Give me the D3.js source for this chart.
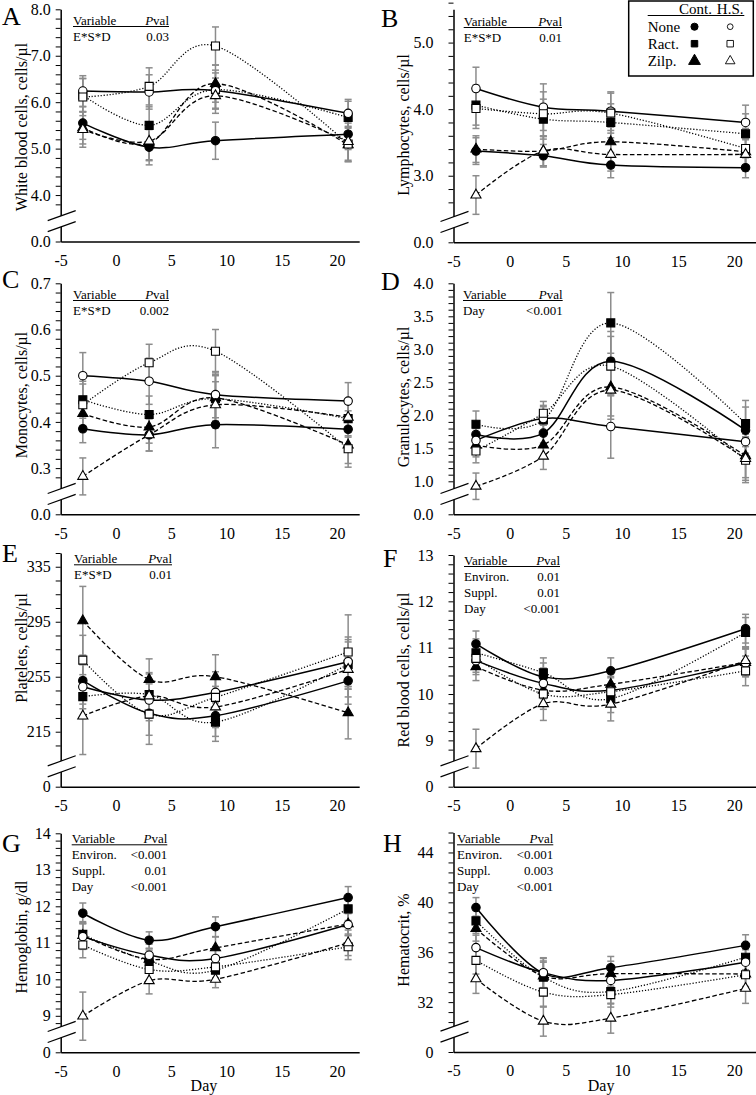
<!DOCTYPE html>
<html><head><meta charset="utf-8">
<script src="https://cdn.jsdelivr.net/npm/d3@7"></script>
<style>
body{margin:0;background:#fff}
svg{display:block}
</style>
</head><body>
<svg id="c" width="756" height="1095" font-family="Liberation Serif"></svg>
<script>
// ---------- DATA ----------
const days = [-3, 3, 9, 21];
const dayTicks = [-5, 0, 5, 10, 15, 20];
// row order in every value array: None-Cont, None-HS, Ract-Cont, Ract-HS, Zilp-Cont, Zilp-HS
const seriesNames = ["None Cont.", "None H.S.", "Ract. Cont.", "Ract. H.S.", "Zilp. Cont.", "Zilp. H.S."];
const seriesShape = ["circle", "circle", "square", "square", "triangle", "triangle"];
const seriesFilled = [true, false, true, false, true, false];
const seriesLine = ["solid", "solid", "dot", "dot", "dash", "dash"];
const drawOrder = [0, 2, 4, 1, 3, 5];

const wbc = [[5.55, 5.03, 5.17, 5.31], [6.24, 6.22, 6.25, 5.76], [6.15, 5.50, 6.27, 5.67], [6.11, 6.34, 7.21, 5.10], [5.45, 5.12, 6.40, 5.08], [5.41, 5.16, 6.14, 5.15]];
const wbcSE = [[0.35, 0.38, 0.40, 0.33], [0.33, 0.37, 0.38, 0.30], [0.36, 0.40, 0.42, 0.35], [0.40, 0.40, 0.41, 0.38], [0.35, 0.38, 0.40, 0.36], [0.38, 0.40, 0.38, 0.40]];
const lym = [[3.37, 3.30, 3.16, 3.12], [4.31, 4.03, 3.97, 3.80], [4.06, 3.85, 3.80, 3.63], [4.01, 3.93, 3.94, 3.41], [3.40, 3.37, 3.51, 3.36], [2.71, 3.37, 3.32, 3.32]];
const lymSE = [[0.20, 0.17, 0.19, 0.15], [0.32, 0.35, 0.29, 0.26], [0.30, 0.30, 0.28, 0.30], [0.30, 0.33, 0.30, 0.30], [0.20, 0.22, 0.22, 0.20], [0.29, 0.22, 0.25, 0.25]];
const mono = [[0.385, 0.372, 0.394, 0.384], [0.500, 0.488, 0.459, 0.445], [0.448, 0.416, 0.450, 0.407], [0.437, 0.528, 0.553, 0.342], [0.418, 0.389, 0.452, 0.350], [0.282, 0.372, 0.437, 0.410]];
const monoSE = [[0.030, 0.035, 0.050, 0.040], [0.050, 0.050, 0.050, 0.040], [0.040, 0.040, 0.050, 0.040], [0.045, 0.040, 0.047, 0.040], [0.035, 0.035, 0.050, 0.040], [0.040, 0.035, 0.050, 0.040]];
const gran = [[1.71, 1.73, 2.82, 1.775], [1.62, 1.95, 1.83, 1.60], [1.865, 1.93, 3.40, 1.875], [1.46, 2.03, 2.745, 1.32], [1.55, 1.55, 2.43, 1.385], [0.925, 1.38, 2.38, 1.345]];
const granSE = [[0.18, 0.18, 0.45, 0.35], [0.18, 0.20, 0.48, 0.30], [0.20, 0.20, 0.46, 0.35], [0.18, 0.18, 0.45, 0.34], [0.18, 0.18, 0.44, 0.33], [0.20, 0.20, 0.44, 0.33]];
const plt = [[252.1, 228.4, 226.6, 252.0], [247.7, 238.0, 243.6, 265.9], [240.5, 242.0, 222.0, 264.0], [267.1, 227.8, 240.0, 273.0], [295.7, 253.0, 255.0, 228.8], [226.4, 241.0, 233.0, 260.3]];
const pltSE = [[17, 16, 15, 17], [16, 15, 15, 18], [16, 16, 14, 18], [18, 22, 15, 27], [25, 15, 16, 19], [28, 16, 15, 20]];
const rbc = [[11.08, 10.37, 10.50, 11.41], [10.72, 10.23, 10.08, 10.67], [10.89, 10.46, 9.90, 11.33], [10.77, 10.00, 10.05, 10.50], [10.59, 10.08, 10.21, 10.68], [8.82, 9.79, 9.78, 10.72]];
const rbcSE = [[0.28, 0.30, 0.28, 0.31], [0.30, 0.33, 0.30, 0.30], [0.30, 0.32, 0.30, 0.32], [0.30, 0.33, 0.30, 0.32], [0.30, 0.32, 0.30, 0.30], [0.42, 0.36, 0.36, 0.30]];
const hgb = [[11.81, 11.07, 11.44, 12.24], [11.17, 10.66, 10.57, 11.50], [11.23, 10.50, 10.25, 11.93], [10.94, 10.27, 10.34, 10.89], [11.20, 10.55, 10.86, 11.52], [8.99, 9.96, 10.00, 11.00]];
const hgbSE = [[0.28, 0.23, 0.27, 0.30], [0.35, 0.30, 0.30, 0.30], [0.35, 0.30, 0.30, 0.32], [0.35, 0.30, 0.30, 0.35], [0.35, 0.30, 0.30, 0.32], [0.66, 0.36, 0.23, 0.35]];
const hct = [[39.58, 34.30, 34.76, 36.55], [36.37, 34.36, 33.74, 35.20], [38.51, 34.00, 32.85, 35.60], [35.35, 32.80, 32.60, 34.20], [37.89, 34.10, 34.28, 34.25], [33.87, 30.47, 30.71, 33.10]];
const hctSE = [[0.80, 1.20, 0.90, 0.85], [1.00, 1.20, 1.00, 1.00], [1.00, 1.20, 1.00, 1.00], [1.10, 1.20, 1.00, 1.00], [1.00, 1.20, 1.00, 1.00], [1.17, 1.20, 1.20, 1.20]];

const wbcTicks = [4, 5, 6, 7, 8];
const lymTicks = [3, 4, 5];
const monoTicks = [0.3, 0.4, 0.5, 0.6, 0.7];
const granTicks = [1, 1.5, 2, 2.5, 3, 3.5, 4];
const pltTicks = [215, 255, 295, 335];
const rbcTicks = [9, 10, 11, 12, 13];
const hgbTicks = [9, 10, 11, 12, 13, 14];
const hctTicks = [32, 36, 40, 44];

const tabA = [["E*S*D", "0.03"]];
const tabB = [["E*S*D", "0.01"]];
const tabC = [["E*S*D", "0.002"]];
const tabD = [["Day", "<0.001"]];
const tabE = [["E*S*D", "0.01"]];
const tabF = [["Environ.", "0.01"], ["Suppl.", "0.01"], ["Day", "<0.001"]];
const tabG = [["Environ.", "<0.001"], ["Suppl.", "0.01"], ["Day", "<0.001"]];
const tabH = [["Environ.", "<0.001"], ["Suppl.", "0.003"], ["Day", "<0.001"]];

const legendRows = ["None", "Ract.", "Zilp."];
const legendCols = ["Cont.", "H.S."];

// ---------- LAYOUT ----------
const FONT = "Liberation Serif";
const svg = d3.select("#c");
const colX = {L: [60.7, 359.2], R: [453.5, 756.8]};
const panels = [
  {id: "A", col: "L", vals: wbc, se: wbcSE, ticks: wbcTicks, fmt: ".1f", zero: "0.0", dom: [3, 8], yr: [241.5, 9.3], minor: 0.2, title: "White blood cells, cells/µl", tyc: 127, tab: tabA, tx: 73, tr: 169, th: 20, L: [2, 25]},
  {id: "B", col: "R", vals: lym, se: lymSE, ticks: lymTicks, fmt: ".1f", zero: "0.0", dom: [2, 5.5], yr: [242.3, 9.3], minor: 0.2, title: "Lymphocytes, cells/µl", tyc: 125, tab: tabB, tx: 463.7, tr: 562, th: 21, L: [381, 27]},
  {id: "C", col: "L", vals: mono, se: monoSE, ticks: monoTicks, fmt: ".1f", zero: "0.0", dom: [0.2, 0.7], yr: [514.3, 283.3], minor: 0.02, title: "Monocytes, cells/µl", tyc: 395, tab: tabC, tx: 73, tr: 169, th: 294, L: [2, 288]},
  {id: "D", col: "R", vals: gran, se: granSE, ticks: granTicks, fmt: ".1f", zero: "0.0", dom: [0.5, 4.0], yr: [514.3, 283.3], minor: 0.1, title: "Granulocytes, cells/µl", tyc: 397, tab: tabD, tx: 463, tr: 562.7, th: 294, L: [381, 290]},
  {id: "E", col: "L", vals: plt, se: pltSE, ticks: pltTicks, fmt: "d", zero: "0", dom: [175, 345], yr: [786.7, 553], minor: 10, title: "Platelets, cells/µl", tyc: 648, tab: tabE, tx: 74, tr: 172, th: 558.3, L: [2, 562]},
  {id: "F", col: "R", vals: rbc, se: rbcSE, ticks: rbcTicks, fmt: "d", zero: "0", dom: [8, 13], yr: [786.7, 555], minor: 0.2, title: "Red blood cells, cells/µl", tyc: 670, tab: tabF, tx: 464, tr: 560, th: 560, L: [383, 567]},
  {id: "G", col: "L", vals: hgb, se: hgbSE, ticks: hgbTicks, fmt: "d", zero: "0", dom: [8, 14], yr: [1052.3, 833.3], minor: 0.2, title: "Hemoglobin, g/dl", tyc: 937, tab: tabG, tx: 71.7, tr: 167.3, th: 838.3, L: [2, 852], day: true},
  {id: "H", col: "R", vals: hct, se: hctSE, ticks: hctTicks, fmt: "d", zero: "0", dom: [28, 45.6], yr: [1052, 832.5], minor: 0.8, title: "Hematocrit, %", tyc: 940, tab: tabH, tx: 457, tr: 553.3, th: 838.3, L: [383, 852], day: true}
];

const ERR = "#8c8c8c";
function symbolPath(shape, size) {
  const t = shape === "circle" ? d3.symbolCircle : shape === "square" ? d3.symbolSquare : d3.symbolTriangle;
  return d3.symbol().type(t).size(size)();
}
const symSize = {circle: 56, square: 64, triangle: 44};
function txt(sel, size) {
  return sel.append("text").attr("font-family", FONT).attr("font-size", size).attr("fill", "#000");
}

function drawPanel(p) {
  const g = svg.append("g");
  const xr = colX[p.col];
  const x = d3.scaleLinear().domain([-5, 22]).range(xr);
  const y = d3.scaleLinear().domain(p.dom).range(p.yr);
  const ax = xr[0];
  const yb = p.yr[0];
  const bc = yb - 20;
  const pad = p.col === "L" ? 5 : 15;

  const n = Math.round((p.dom[1] - p.dom[0]) / p.minor);
  const tv = [];
  for (let i = 0; i <= n; i++) {
    const v = +(p.dom[0] + i * p.minor).toFixed(6);
    if (i === 0 || y(v) < bc - 8) tv.push(v);
  }
  const f = d3.format(p.fmt);
  const isMajor = v => p.ticks.some(t => Math.abs(t - v) < 1e-6);
  const yAxis = d3.axisLeft(y).tickValues(tv).tickSize(5).tickSizeOuter(0).tickPadding(pad)
    .tickFormat(v => v === p.dom[0] ? p.zero : (isMajor(v) ? f(v) : ""));
  const ya = g.append("g").attr("transform", `translate(${ax},0)`).call(yAxis)
    .attr("font-family", FONT).attr("font-size", 16);
  ya.selectAll("text").attr("font-family", FONT).attr("font-size", 16).attr("fill", "#000");
  ya.selectAll("line").attr("stroke", "#000").attr("stroke-width", 1);
  ya.select(".domain").attr("stroke", "#000").attr("stroke-width", 1.5);

  const xAxis = d3.axisBottom(x).tickValues(dayTicks).tickSize(0).tickSizeOuter(0).tickPadding(13).tickFormat(d => String(d));
  const xa = g.append("g").attr("transform", `translate(0,${yb})`).call(xAxis)
    .attr("font-family", FONT).attr("font-size", 16);
  xa.selectAll("text").attr("font-family", FONT).attr("font-size", 16).attr("fill", "#000");
  xa.select(".domain").attr("stroke", "#000").attr("stroke-width", 1.5);

  // axis break
  const s = 0.36;
  const L0 = ax - 13, L1 = ax + 15;
  const yl = (xx, off) => bc + off - (xx - ax) * s;
  g.append("path").attr("fill", "#fff")
    .attr("d", `M${L0+4},${yl(L0+4,-5.5)}L${L1-4},${yl(L1-4,-5.5)}L${L1-4},${yl(L1-4,5.5)}L${L0+4},${yl(L0+4,5.5)}Z`);
  [-5.5, 5.5].forEach(off => {
    g.append("line").attr("x1", L0).attr("y1", yl(L0, off)).attr("x2", L1).attr("y2", yl(L1, off))
      .attr("stroke", "#000").attr("stroke-width", 1.2);
  });

  // error bars
  const eg = g.append("g").attr("stroke", ERR).attr("stroke-width", 1.5);
  drawOrder.forEach(si => {
    days.forEach((d, j) => {
      const v = p.vals[si][j], e = p.se[si][j];
      const cx = x(d), y1 = y(v - e), y2 = y(v + e);
      eg.append("line").attr("x1", cx).attr("x2", cx).attr("y1", y1).attr("y2", y2);
      eg.append("line").attr("x1", cx - 3.5).attr("x2", cx + 3.5).attr("y1", y1).attr("y2", y1);
      eg.append("line").attr("x1", cx - 3.5).attr("x2", cx + 3.5).attr("y1", y2).attr("y2", y2);
    });
  });

  // lines and markers
  const line = d3.line().x(d => x(d[0])).y(d => y(d[1])).curve(d3.curveCardinal.tension(0));
  drawOrder.forEach(si => {
    const pts = days.map((d, j) => [d, p.vals[si][j]]);
    const st = seriesLine[si];
    g.append("path").attr("d", line(pts)).attr("fill", "none").attr("stroke", "#000")
      .attr("stroke-width", st === "solid" ? 1.5 : 1.3)
      .attr("stroke-dasharray", st === "dot" ? "1.2,1.8" : st === "dash" ? "4.5,2.5" : null);
    g.selectAll(null).data(pts).enter().append("path")
      .attr("d", symbolPath(seriesShape[si], symSize[seriesShape[si]]))
      .attr("transform", d => `translate(${x(d[0])},${y(d[1])})`)
      .attr("fill", seriesFilled[si] ? "#000" : "#fff")
      .attr("stroke", "#000").attr("stroke-width", 1.1);
  });

  // stats table
  const tg = g.append("g");
  const hb = p.th + 4.5;
  txt(tg, 13).attr("x", p.tx).attr("y", hb).text("Variable");
  const pv = txt(tg, 13).attr("x", p.tr).attr("y", hb).attr("text-anchor", "end");
  pv.append("tspan").attr("font-style", "italic").text("P");
  pv.append("tspan").text("val");
  tg.append("line").attr("x1", p.tx).attr("x2", p.tr).attr("y1", p.th + 6.5).attr("y2", p.th + 6.5)
    .attr("stroke", "#000").attr("stroke-width", 1);
  p.tab.forEach((r, k) => {
    const by = hb + 16 * (k + 1);
    txt(tg, 13).attr("x", p.tx).attr("y", by).text(r[0]);
    txt(tg, 13).attr("x", p.tr).attr("y", by).attr("text-anchor", "end").text(r[1]);
  });

  // y title
  const tx = p.col === "L" ? 21 : 403;
  txt(g, 16).attr("transform", `translate(${tx},${p.tyc}) rotate(-90)`)
    .attr("text-anchor", "middle").attr("dominant-baseline", "central").text(p.title);

  // letter
  txt(g, 26).attr("x", p.L[0]).attr("y", p.L[1]).text(p.id);

  if (p.day) {
    txt(g, 16).attr("x", (x(-5) + x(22)) / 2 + (p.col === "L" ? -6 : -4)).attr("y", 1091)
      .attr("text-anchor", "middle").text("Day");
  }
}
panels.forEach(drawPanel);

// ---------- LEGEND ----------
const lg = svg.append("g");
lg.append("rect").attr("x", 628.7).attr("y", 1).attr("width", 124.6).attr("height", 75)
  .attr("fill", "#fff").attr("stroke", "#000").attr("stroke-width", 1.5);
const colCx = [695.5, 730.2];
legendCols.forEach((c, i) => {
  txt(lg, 15).attr("x", colCx[i]).attr("y", 13.5).attr("text-anchor", "middle").text(c);
});
lg.append("line").attr("x1", 647.7).attr("x2", 744.3).attr("y1", 15.5).attr("y2", 15.5).attr("stroke", "#000").attr("stroke-width", 1);
const rowY = [26.7, 43.7, 61];
const legShapes = ["circle", "square", "triangle"];
legendRows.forEach((r, i) => {
  txt(lg, 15).attr("x", 647.7).attr("y", rowY[i] + 5).text(r);
  const sh = legShapes[i];
  const sizes = {circle: [40, 26], square: [42, 42], triangle: [60, 40]};
  lg.append("path").attr("d", symbolPath(sh, sizes[sh][0])).attr("transform", `translate(${colCx[0] - 1},${rowY[i]})`)
    .attr("fill", "#000").attr("stroke", "#000").attr("stroke-width", 1);
  lg.append("path").attr("d", symbolPath(sh, sizes[sh][1])).attr("transform", `translate(${colCx[1]},${rowY[i]})`)
    .attr("fill", "#fff").attr("stroke", "#000").attr("stroke-width", 0.9);
});
</script>
</body></html>
